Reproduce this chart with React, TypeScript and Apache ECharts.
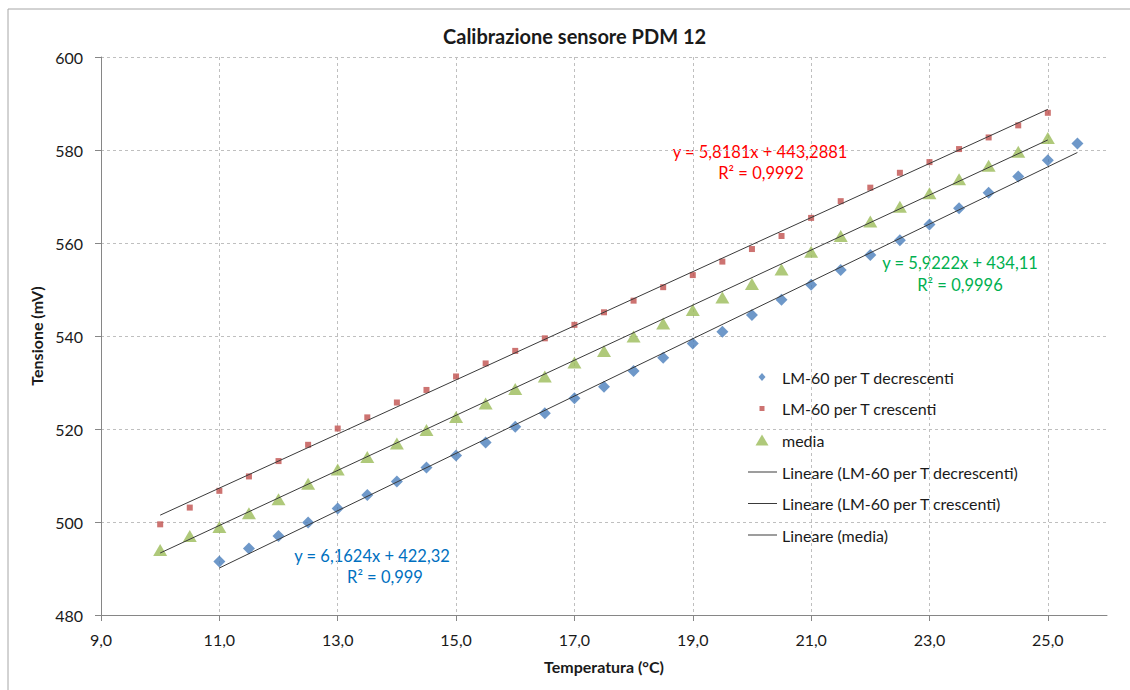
import React, { useEffect, useRef } from "react";
import * as echarts from "echarts";

const TITLE = "Calibrazione sensore PDM 12";
const X_NAME = "Temperatura (°C)";
const Y_NAME = "Tensione (mV)";

const X_TICKS = [9, 11, 13, 15, 17, 19, 21, 23, 25];

const NAME_DEC = "LM-60 per T decrescenti";
const NAME_CRE = "LM-60 per T crescenti";
const NAME_MED = "media";

// x from 11.0 to 25.5
const xDec = [11, 11.5, 12, 12.5, 13, 13.5, 14, 14.5, 15, 15.5, 16, 16.5, 17, 17.5, 18, 18.5, 19, 19.5, 20, 20.5, 21, 21.5, 22, 22.5, 23, 23.5, 24, 24.5, 25, 25.5];
const yDec = [491.5, 494.3, 497.0, 499.9, 502.9, 505.8, 508.7, 511.7, 514.3, 517.1, 520.5, 523.4, 526.6, 529.1, 532.5, 535.3, 538.4, 540.9, 544.5, 547.8, 551.0, 554.2, 557.4, 560.6, 564.0, 567.5, 570.8, 574.3, 577.8, 581.4];

// x from 10.0 to 25.0
const xCre = [10, 10.5, 11, 11.5, 12, 12.5, 13, 13.5, 14, 14.5, 15, 15.5, 16, 16.5, 17, 17.5, 18, 18.5, 19, 19.5, 20, 20.5, 21, 21.5, 22, 22.5, 23, 23.5, 24, 24.5, 25];
const yCre = [499.5, 503.1, 506.7, 509.8, 513.1, 516.6, 520.1, 522.5, 525.7, 528.4, 531.3, 534.1, 536.8, 539.5, 542.4, 545.1, 547.6, 550.5, 553.1, 556.0, 558.7, 561.5, 565.4, 569.0, 571.9, 575.1, 577.4, 580.2, 582.7, 585.3, 588.0];

const xMed = [10, 10.5, 11, 11.5, 12, 12.5, 13, 13.5, 14, 14.5, 15, 15.5, 16, 16.5, 17, 17.5, 18, 18.5, 19, 19.5, 20, 20.5, 21, 21.5, 22, 22.5, 23, 23.5, 24, 24.5, 25];
const yMed = [494.0, 497.0, 498.9, 501.9, 504.9, 508.2, 511.3, 514.0, 516.9, 519.8, 522.6, 525.5, 528.6, 531.3, 534.3, 536.8, 539.9, 542.7, 545.6, 548.3, 551.2, 554.3, 558.1, 561.5, 564.6, 567.8, 570.7, 573.7, 576.6, 579.6, 582.6];

// trendline equations shown on the chart: [slope, intercept]
const FIT_DEC = [6.1624, 422.32];
const FIT_CRE = [5.8181, 443.2881];
const FIT_MED = [5.9222, 434.11];

const EQ_DEC = ["y = 6,1624x + 422,32", "R² = 0,999"];
const EQ_CRE = ["y = 5,8181x + 443,2881", "R² = 0,9992"];
const EQ_MED = ["y = 5,9222x + 434,11", "R² = 0,9996"];

const C_BLUE = "#4A7EBB";
const C_RED = "#C0504D";
const C_GREEN = "#9BBB59";
const C_TREND = "#3a3a3a";
const FONT = "Lato";

const ICON_DIAMOND = "path://M3.5 0L7 4L3.5 8L0 4Z";
const ICON_SQUARE = "path://M0 0H5V5H0Z";
const ICON_TRIANGLE = "path://M6.5 0L13 11H0Z";

function pairs(xs: number[], ys: number[]) {
  return xs.map((x, i) => [x, ys[i]]);
}
function trend(xs: number[], fit: number[]) {
  const a = xs[0];
  const b = xs[xs.length - 1];
  return [
    [a, fit[0] * a + fit[1]],
    [b, fit[0] * b + fit[1]],
  ];
}

export default function App() {
  const ref = useRef<HTMLDivElement>(null);
  useEffect(() => {
    if (!ref.current) return;
    const chart = echarts.init(ref.current, null, { renderer: "svg" });
    const legendText = { fontFamily: FONT, fontSize: 16, color: "#1a1a1a", lineHeight: 20 };
    const eqText = (t: string, x: number, y: number, color: string) => ({
      type: "text",
      x,
      y,
      style: { text: t, fill: color, fontFamily: FONT, fontSize: 16.5, align: "center", verticalAlign: "middle" },
    });
    const trendSeries = (name: string, data: number[][]) => ({
      name,
      type: "line",
      symbol: "none",
      lineStyle: { color: C_TREND, width: 1 },
      itemStyle: { color: C_TREND },
      data,
      z: 4,
    });
    chart.setOption({
      animation: false,
      backgroundColor: "#ffffff",
      title: {
        text: TITLE,
        left: 443,
        top: 26,
        padding: 0,
        textStyle: { fontFamily: FONT, fontSize: 20, fontWeight: "bold", color: "#1a1a1a" },
      },
      grid: { left: 101, right: 23, top: 57, bottom: 75 },
      xAxis: {
        type: "value",
        min: 9,
        max: 26,
        interval: 2,
        name: X_NAME,
        nameLocation: "middle",
        nameGap: 43,
        nameTextStyle: { fontFamily: FONT, fontSize: 16, fontWeight: "bold", color: "#1a1a1a" },
        axisLine: { show: true, lineStyle: { color: "#868686", width: 1 } },
        axisTick: { show: true, length: 6, customValues: X_TICKS, lineStyle: { color: "#868686" } },
        axisLabel: {
          customValues: X_TICKS,
          margin: 16,
          fontFamily: FONT,
          fontSize: 16,
          color: "#1a1a1a",
          formatter: (v: number) => v.toFixed(1).replace(".", ","),
        },
        splitLine: { show: true, lineStyle: { color: "#bfbfbf", type: [3, 3], width: 1 } },
      },
      yAxis: {
        type: "value",
        min: 480,
        max: 600,
        interval: 20,
        name: Y_NAME,
        nameLocation: "middle",
        nameGap: 47,
        nameTextStyle: { fontFamily: FONT, fontSize: 16, fontWeight: "bold", color: "#1a1a1a" },
        axisLine: { show: true, lineStyle: { color: "#868686", width: 1 } },
        axisTick: { show: true, length: 6, lineStyle: { color: "#868686" } },
        axisLabel: { margin: 18, fontFamily: FONT, fontSize: 16, color: "#1a1a1a" },
        splitLine: { show: true, lineStyle: { color: "#bfbfbf", type: [3, 3], width: 1 } },
      },
      legend: [
        {
          data: [{ name: NAME_DEC, icon: ICON_DIAMOND }],
          left: 758.5, top: 367, padding: 0, itemWidth: 30, itemHeight: 8,
          symbolKeepAspect: true, textStyle: legendText,
        },
        {
          data: [{ name: NAME_CRE, icon: ICON_SQUARE }],
          left: 759.5, top: 398.5, padding: 0, itemWidth: 30, itemHeight: 5,
          symbolKeepAspect: true, textStyle: legendText,
        },
        {
          data: [{ name: NAME_MED, icon: ICON_TRIANGLE }],
          left: 755.5, top: 430, padding: 0, itemWidth: 30, itemHeight: 11,
          symbolKeepAspect: true, textStyle: legendText,
        },
        {
          data: [
            { name: "Lineare (" + NAME_DEC + ")", icon: "rect" },
            { name: "Lineare (" + NAME_CRE + ")", icon: "rect" },
            { name: "Lineare (" + NAME_MED + ")", icon: "rect" },
          ],
          orient: "vertical",
          left: 748, top: 462, padding: 0, itemWidth: 29, itemHeight: 1, itemGap: 11.5,
          textStyle: legendText,
        },
      ],
      series: [
        {
          name: NAME_DEC,
          type: "scatter",
          symbol: "diamond",
          symbolSize: 12,
          itemStyle: { color: C_BLUE },
          data: pairs(xDec, yDec),
          z: 3,
        },
        {
          name: NAME_CRE,
          type: "scatter",
          symbol: "rect",
          symbolSize: 6,
          itemStyle: { color: C_RED },
          data: pairs(xCre, yCre),
          z: 3,
        },
        {
          name: NAME_MED,
          type: "scatter",
          symbol: "triangle",
          symbolSize: [14, 12],
          itemStyle: { color: C_GREEN },
          data: pairs(xMed, yMed),
          z: 3,
        },
        trendSeries("Lineare (" + NAME_DEC + ")", trend(xDec, FIT_DEC)),
        trendSeries("Lineare (" + NAME_CRE + ")", trend(xCre, FIT_CRE)),
        trendSeries("Lineare (" + NAME_MED + ")", trend(xMed, FIT_MED)),
      ],
      graphic: [
        {
          type: "rect",
          shape: { x: 8, y: 9, width: 1140, height: 700 },
          style: { fill: "none", stroke: "#a6a6a6", lineWidth: 1 },
          silent: true,
        },
        eqText(EQ_CRE[0], 760, 152, "#FF0000"),
        eqText(EQ_CRE[1], 761, 173, "#FF0000"),
        eqText(EQ_MED[0], 960, 263, "#00B050"),
        eqText(EQ_MED[1], 960, 285, "#00B050"),
        eqText(EQ_DEC[0], 372, 556, "#0070C0"),
        eqText(EQ_DEC[1], 385, 577, "#0070C0"),
      ],
    });
    return () => chart.dispose();
  }, []);
  return (
    <div
      ref={ref}
      style={{ position: "fixed", left: 0, top: 0, width: 1130, height: 690, background: "#fff" }}
    />
  );
}
